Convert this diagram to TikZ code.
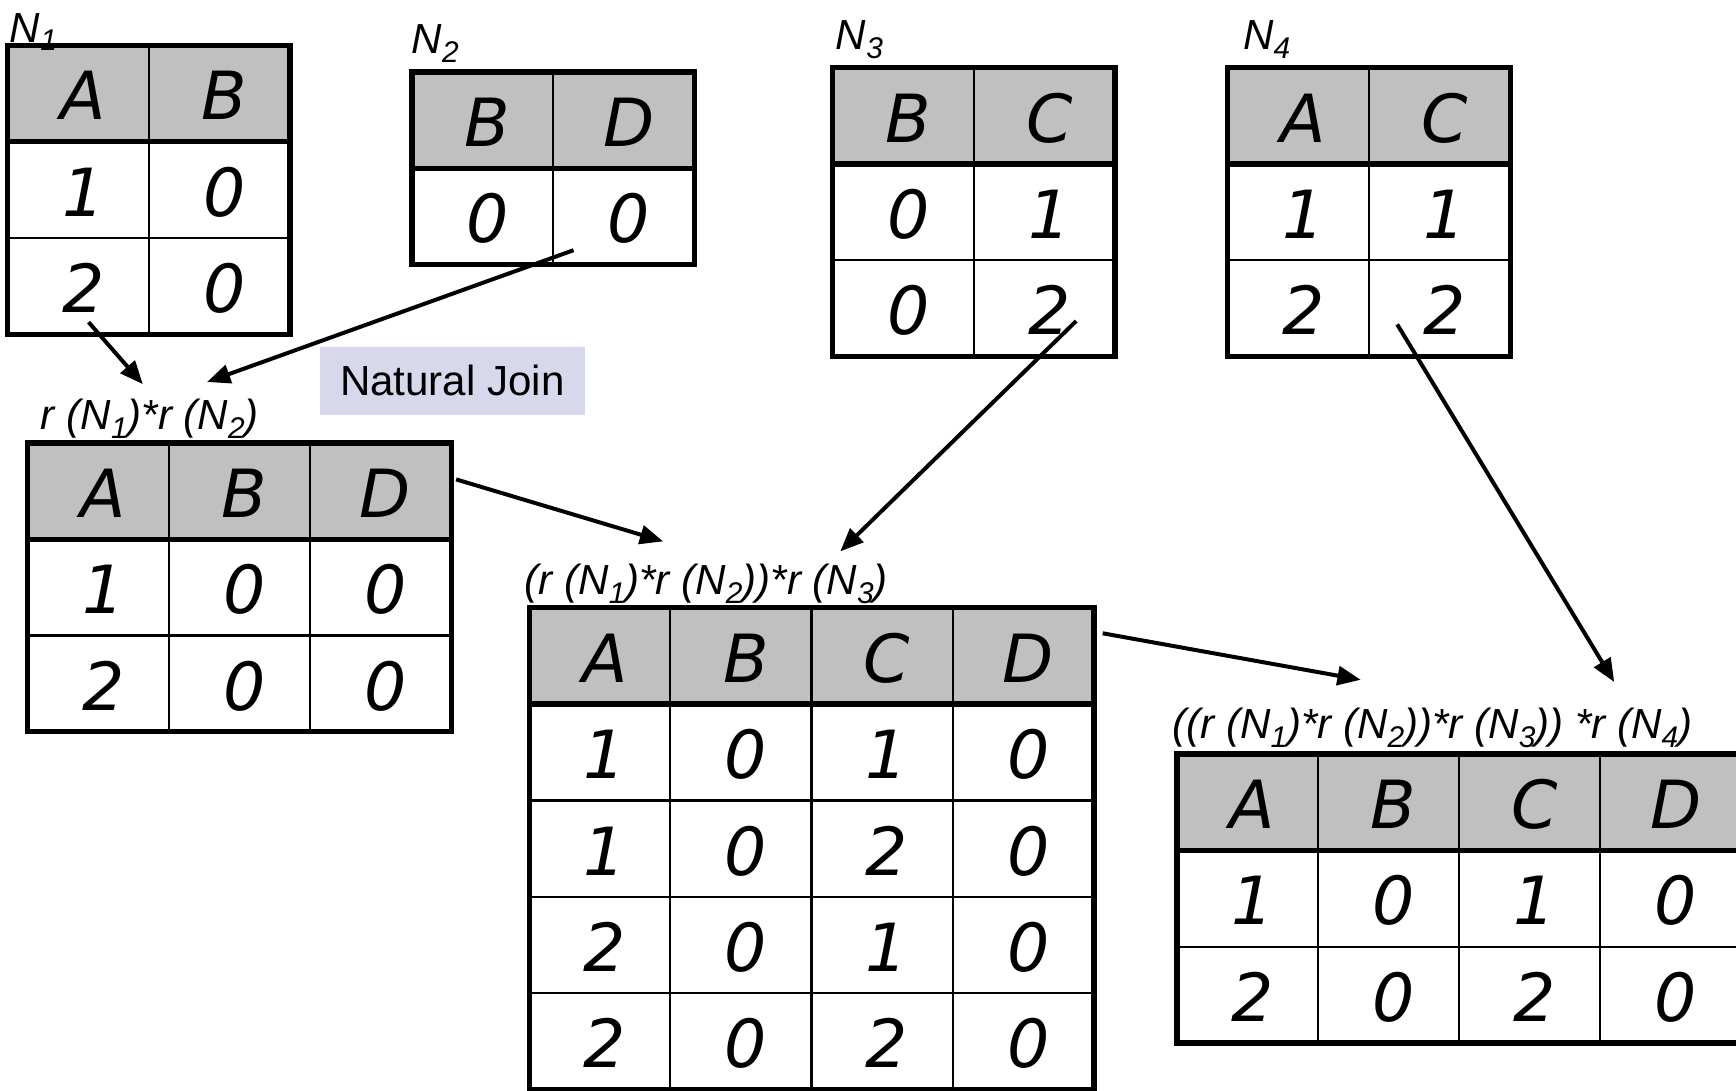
\documentclass[tikz,border=0pt]{standalone}
\usepackage{fontspec}
\setmainfont{Liberation Sans}
\newfontfamily\celldv{DejaVu Sans}
\usetikzlibrary{matrix,arrows.meta}
\definecolor{hdrgray}{RGB}{192,192,192}
\definecolor{joinbg}{RGB}{216,216,236}
\newcommand\cellfont{\celldv\itshape\fontsize{60}{60}\selectfont}
\newcommand\lblfont{\itshape\fontsize{38}{38}\selectfont}
\newcommand\sbs[1]{\raisebox{-8pt}{\fontsize{27}{27}\selectfont #1}}
\tikzset{
  cell/.style={draw=black, line width=2pt, minimum width=127.5pt, minimum height=87pt,
    inner sep=0pt, outer sep=0pt, text height=47.7pt, text depth=0pt, font=\cellfont,
    execute at begin node={\hspace*{9pt}}},
  tbl/.style={matrix of nodes, inner sep=0pt, outer sep=0pt, anchor=north west,
    column sep=-2pt, row sep=-2pt, nodes={cell}, row 1/.style={nodes={fill=hdrgray}}},
  frame/.style={draw=black, line width=4.8pt},
  lbl/.style={inner sep=0pt, outer sep=0pt, anchor=base west, font=\lblfont},
  arr/.style={line width=3.6pt, -{Triangle[length=21pt,width=17pt]}},
  joinbox/.style={fill=joinbg, minimum width=239pt, minimum height=62pt, inner sep=0pt,
    font=\fontsize{38}{38}\selectfont},
}
\newcommand\tblframe[3]{% matrix name, last row, last col
  \draw[frame] (#1-1-1.north west) rectangle (#1-#2-#3.south east);
  \draw[frame] (#1-1-1.south west) -- (#1-1-#3.south east);
}
\begin{document}
\begin{tikzpicture}[x=1pt,y=-1pt]
\useasboundingbox[fill=white] (0,0) rectangle (1568,985);

% source tables
\matrix (N1) [tbl] at (6,40) {
  A & B \\
  1 & 0 \\
  2 & 0 \\
};
\tblframe{N1}{3}{2}

\matrix (N2) [tbl] at (371,64) {
  B & D \\
  0 & 0 \\
};
\tblframe{N2}{2}{2}

\matrix (N3) [tbl] at (751,60) {
  B & C \\
  0 & 1 \\
  0 & 2 \\
};
\tblframe{N3}{3}{2}

\matrix (N4) [tbl] at (1108,60) {
  A & C \\
  1 & 1 \\
  2 & 2 \\
};
\tblframe{N4}{3}{2}

% joined tables
\matrix (J12) [tbl] at (24,399) {
  A & B & D \\
  1 & 0 & 0 \\
  2 & 0 & 0 \\
};
\tblframe{J12}{3}{3}

\matrix (J123) [tbl] at (477,548) {
  A & B & C & D \\
  1 & 0 & 1 & 0 \\
  1 & 0 & 2 & 0 \\
  2 & 0 & 1 & 0 \\
  2 & 0 & 2 & 0 \\
};
\tblframe{J123}{5}{4}

\matrix (J1234) [tbl] at (1062,680) {
  A & B & C & D \\
  1 & 0 & 1 & 0 \\
  2 & 0 & 2 & 0 \\
};
\tblframe{J1234}{3}{4}

% labels
\node[lbl] (l1) at (9,38) {N\sbs{1}};
\node[lbl] (l2) at (372,48) {N\sbs{2}};
\node[lbl] (l3) at (755,45) {N\sbs{3}};
\node[lbl] (l4) at (1123,45) {N\sbs{4}};
\node[lbl] (l12) at (37,388) {r (N\sbs{1})*r (N\sbs{2})};
\node[lbl] (l123) at (474,537) {(r (N\sbs{1})*r (N\sbs{2}))*r (N\sbs{3})};
\node[lbl] (l1234) at (1059,667) {((r (N\sbs{1})*r (N\sbs{2}))*r (N\sbs{3})) *r (N\sbs{4})};

\node[joinbox] (join) at (408.5,344) {Natural Join};

% arrows
\coordinate (a1s) at (80,291);   \coordinate (a1e) at (129,347);
\coordinate (a2s) at (518,226);  \coordinate (a2e) at (187,345);
\coordinate (a3s) at (412,433);  \coordinate (a3e) at (599,489);
\coordinate (a4s) at (972,290);  \coordinate (a4e) at (759,498);
\coordinate (a5s) at (996,572);  \coordinate (a5e) at (1229,614);
\coordinate (a6s) at (1262,293); \coordinate (a6e) at (1458,616);
\draw[arr] (a1s) -- (a1e);
\draw[arr] (a2s) -- (a2e);
\draw[arr] (a3s) -- (a3e);
\draw[arr] (a4s) -- (a4e);
\draw[arr] (a5s) -- (a5e);
\draw[arr] (a6s) -- (a6e);
\end{tikzpicture}
\end{document}
